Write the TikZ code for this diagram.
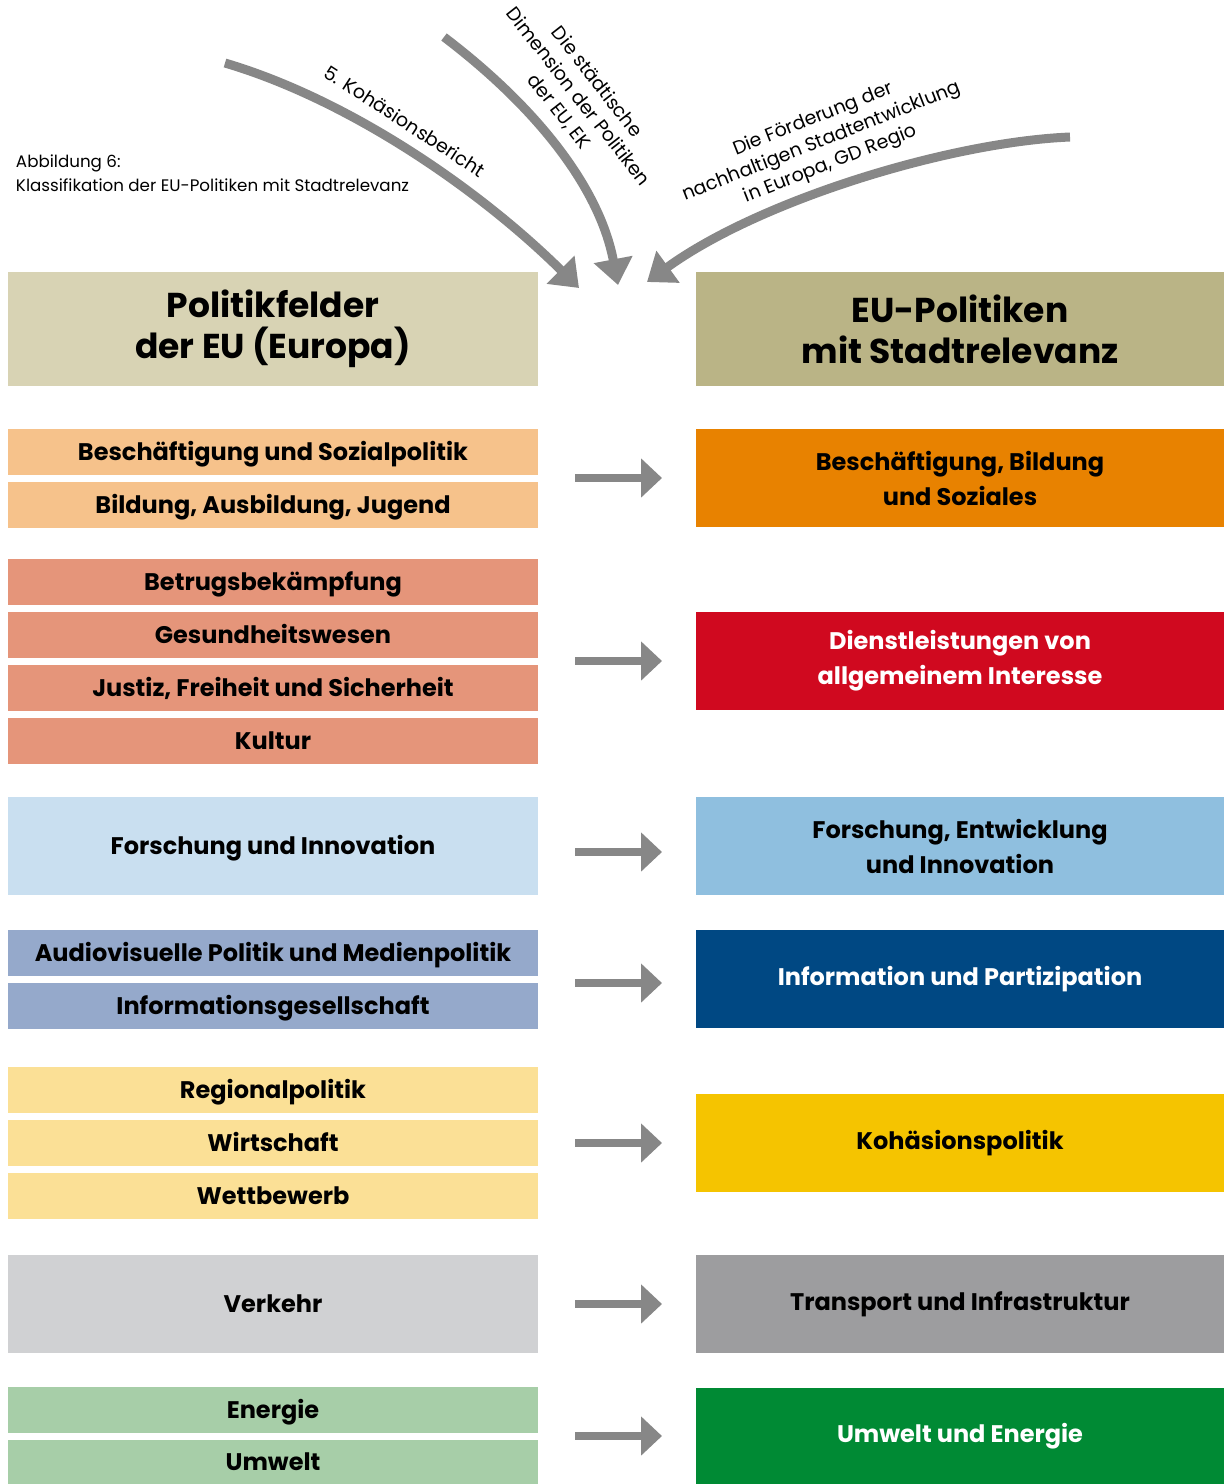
\documentclass[tikz,border=0pt]{standalone}
\usepackage{fontspec}
\setmainfont{Poppins}
\usetikzlibrary{arrows.meta,calc}

\definecolor{hdrL}{HTML}{D8D3B4}
\definecolor{hdrR}{HTML}{BAB486}
\definecolor{apricot}{HTML}{F6C28B}
\definecolor{salmon}{HTML}{E5957A}
\definecolor{paleblue}{HTML}{C9DFF0}
\definecolor{periwinkle}{HTML}{95A9CB}
\definecolor{paleyellow}{HTML}{FBE096}
\definecolor{palegrey}{HTML}{D0D1D3}
\definecolor{palegreen}{HTML}{A7CEA8}
\definecolor{eorange}{HTML}{E88200}
\definecolor{ered}{HTML}{D0091F}
\definecolor{eblue}{HTML}{8FBFDF}
\definecolor{enavy}{HTML}{004883}
\definecolor{eyellow}{HTML}{F5C400}
\definecolor{egrey}{HTML}{9D9D9F}
\definecolor{egreen}{HTML}{008A34}
\definecolor{arrowgrey}{HTML}{878787}

\begin{document}
\begin{tikzpicture}[x=1pt,y=-1pt,
  every node/.style={inner sep=0pt, outer sep=0pt},
  field/.style={rectangle, anchor=north west, minimum width=530pt, minimum height=46pt,
    font=\fontsize{24}{34}\selectfont\bfseries, text height=17pt, text depth=0pt},
  tallfield/.style={field, minimum height=98pt},
  policy/.style={rectangle, anchor=north west, minimum width=528pt, minimum height=98pt,
    font=\fontsize{24}{35}\selectfont\bfseries, align=center},
  header/.style={rectangle, anchor=north west, minimum height=114pt,
    font=\fontsize{34.5}{41}\selectfont\bfseries, align=center},
  harrow/.style={draw=arrowgrey, line width=8pt, shorten <=37pt, shorten >=34pt,
    -{Triangle[length=21pt,width=38pt]}},
  carrow/.style={draw=arrowgrey, line width=9pt, -{Triangle[length=26pt,width=38pt]}},
  source/.style={font=\fontsize{19}{24}\selectfont, align=center}
]
\useasboundingbox (0,0) rectangle (1224,1484);

% caption
\node[anchor=north west, align=left, font=\fontsize{16.7}{24}\selectfont] (cap) at (16,155)
  {Abbildung 6:\\Klassifikation der EU-Politiken mit Stadtrelevanz};

% column headers
\node[header, fill=hdrL, minimum width=530pt] (hL) at (8,272) {Politikfelder\\der EU (Europa)};
\node[header, fill=hdrR, minimum width=528pt] (hR) at (696,272) {EU-Politiken\\mit Stadtrelevanz};

% policy fields of the EU
\node[field, fill=apricot] (l1a) at (8,429) {Beschäftigung und Sozialpolitik};
\node[field, fill=apricot] (l1b) at (8,482) {Bildung, Ausbildung, Jugend};
\node[field, fill=salmon] (l2a) at (8,559) {Betrugsbekämpfung};
\node[field, fill=salmon] (l2b) at (8,612) {Gesundheitswesen};
\node[field, fill=salmon] (l2c) at (8,665) {Justiz, Freiheit und Sicherheit};
\node[field, fill=salmon] (l2d) at (8,718) {Kultur};
\node[tallfield, fill=paleblue] (l3) at (8,797) {Forschung und Innovation};
\node[field, fill=periwinkle] (l4a) at (8,930) {Audiovisuelle Politik und Medienpolitik};
\node[field, fill=periwinkle] (l4b) at (8,983) {Informationsgesellschaft};
\node[field, fill=paleyellow] (l5a) at (8,1067) {Regionalpolitik};
\node[field, fill=paleyellow] (l5b) at (8,1120) {Wirtschaft};
\node[field, fill=paleyellow] (l5c) at (8,1173) {Wettbewerb};
\node[tallfield, fill=palegrey] (l6) at (8,1255) {Verkehr};
\node[field, fill=palegreen] (l7a) at (8,1387) {Energie};
\node[field, fill=palegreen, minimum height=44pt] (l7b) at (8,1440) {Umwelt};

% EU policies relevant to cities
\node[policy, fill=eorange] (r1) at (696,429) {Beschäftigung, Bildung\\und Soziales};
\node[policy, fill=ered, text=white] (r2) at (696,612) {Dienstleistungen von\\allgemeinem Interesse};
\node[policy, fill=eblue] (r3) at (696,797) {Forschung, Entwicklung\\und Innovation};
\node[policy, fill=enavy, text=white] (r4) at (696,930) {Information und Partizipation};
\node[policy, fill=eyellow] (r5) at (696,1094) {Kohäsionspolitik};
\node[policy, fill=egrey] (r6) at (696,1255) {Transport und Infrastruktur};
\node[policy, fill=egreen, text=white, minimum height=96pt] (r7) at (696,1388) {Umwelt und Energie};

% assignment arrows
\draw[harrow] (l1a.east |- r1.west) -- (r1.west);
\draw[harrow] (l2b.east |- r2.west) -- (r2.west);
\draw[harrow] ([yshift=-6pt]l3.east) -- ([yshift=-6pt]r3.west);
\draw[harrow] ([yshift=-4pt]l4a.east |- r4.west) -- ([yshift=-4pt]r4.west);
\draw[harrow] (l5b.east |- r5.west) -- (r5.west);
\draw[harrow] (l6.east) -- (r6.west);
\draw[harrow] (l7a.east |- r7.west) -- (r7.west);

% sources feeding the classification
\coordinate (s1) at (225,63);
\coordinate (t1) at (579,288);
\coordinate (s2) at (444,37);
\coordinate (t2) at (618,285);
\coordinate (s3) at (1070,137);
\coordinate (t3) at (647,282);

\draw[carrow] (s1) .. controls (350,100) and (480,190) .. (t1);
\draw[carrow] (s2) .. controls (540,110) and (600,190) .. (t2);
\draw[carrow] (s3) .. controls (950,142) and (760,200) .. (t3);

\node[source, rotate=-33] (src1) at (405,121) {5. Kohäsionsbericht};
\node[source, rotate=-52] (src2) at (578,97) {Die städtische\\Dimension der Politiken\\der EU, EK};
\node[source, rotate=21.5] (src3) at (822,142) {Die Förderung der\\nachhaltigen Stadtentwicklung\\in Europa, GD Regio};
\end{tikzpicture}
\end{document}
